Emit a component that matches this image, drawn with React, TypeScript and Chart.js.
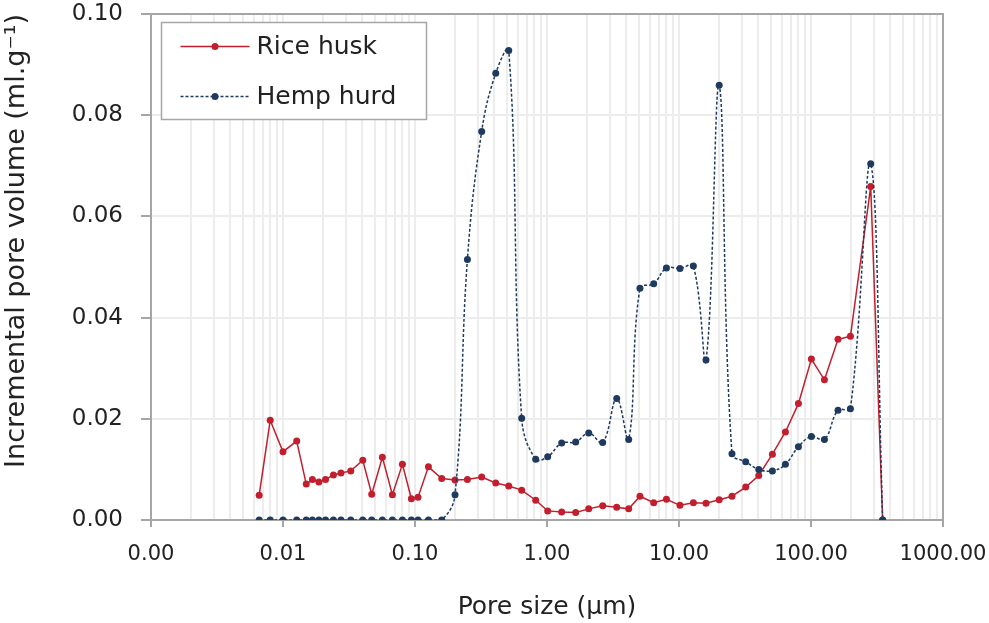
import React, { useEffect, useRef } from 'react';
import { Chart, registerables } from 'chart.js';

Chart.register(...registerables);

// ---- data ----
const poreSize = [
  0.0066, 0.008, 0.01, 0.0127, 0.015, 0.0167, 0.0187, 0.021, 0.0241, 0.0275,
  0.0326, 0.0402, 0.047, 0.0566, 0.0674, 0.0803, 0.0939, 0.1054, 0.1264, 0.1594,
  0.201, 0.2495, 0.32, 0.409, 0.513, 0.643, 0.821, 1.012, 1.292, 1.65,
  2.07, 2.642, 3.374, 4.158, 5.06, 6.43, 8.03, 10.17, 12.85, 16.02,
  20.16, 25.2, 32.0, 40.2, 51.0, 64.0, 80.3, 100.7, 126.4, 160.2,
  198.9, 283.4, 349,
];
const riceHusk = [
  0.0049, 0.0197, 0.0135, 0.0156, 0.0071, 0.008, 0.0075, 0.008, 0.0089, 0.0093,
  0.0097, 0.0118, 0.0051, 0.0124, 0.005, 0.011, 0.0042, 0.0045, 0.0105, 0.0082,
  0.0079, 0.008, 0.0085, 0.0073, 0.0067, 0.0059, 0.0039, 0.0018, 0.0016, 0.0015,
  0.0022, 0.0028, 0.0025, 0.0022, 0.0047, 0.0034, 0.0041, 0.0029, 0.0034, 0.0033,
  0.004, 0.0047, 0.0065, 0.0088, 0.013, 0.0174, 0.023, 0.0318, 0.0277, 0.0357,
  0.0363, 0.0659, 0,
];
const hempHurd = [
  0, 0, 0, 0, 0, 0, 0, 0, 0, 0,
  0, 0, 0, 0, 0, 0, 0, 0, 0, 0,
  0.005, 0.0515, 0.0768, 0.0883, 0.0928, 0.0201, 0.012, 0.0125, 0.0152, 0.0154,
  0.0172, 0.0153, 0.024, 0.0159, 0.0458, 0.0467, 0.0498, 0.0497, 0.0502, 0.0316,
  0.0859, 0.0131, 0.0115, 0.01, 0.0097, 0.011, 0.0145, 0.0165, 0.0159, 0.0217,
  0.022, 0.0704, 0,
];
const seriesNames = ['Rice husk', 'Hemp hurd'];
const xDecades = [0.001, 0.01, 0.1, 1, 10, 100, 1000];
const yTicks = [0, 0.02, 0.04, 0.06, 0.08, 0.1];
const xTitle = 'Pore size (µm)';
const yTitle = 'Incremental pore volume (ml.g⁻¹)';

// ---- styles ----
const FONT = "'DejaVu Sans', Verdana, sans-serif";
const AXIS = '#A6A6A6';
const GRID = '#EDEDED';
const TEXT = '#222222';
const RED = '#C21F2E';
const BLUE = '#1F3A5F';

function isDecade(v: number) {
  const l = Math.log10(v);
  return Math.abs(l - Math.round(l)) < 1e-6;
}

function logTickValues(): number[] {
  const out: number[] = [];
  for (let i = 0; i < xDecades.length - 1; i++) {
    for (let m = 1; m < 10; m++) out.push(Number((xDecades[i] * m).toPrecision(10)));
  }
  out.push(xDecades[xDecades.length - 1]);
  return out;
}

const framePlugin = {
  id: 'frame',
  beforeDatasetsDraw(chart: any) {
    const { ctx, chartArea: a } = chart;
    ctx.save();
    ctx.strokeStyle = AXIS;
    ctx.lineWidth = 2;
    ctx.beginPath();
    ctx.moveTo(a.left, a.top);
    ctx.lineTo(a.right, a.top);
    ctx.lineTo(a.right, a.bottom);
    ctx.stroke();
    ctx.restore();
  },
};

const boxLegend = {
  id: 'boxLegend',
  afterDatasetsDraw(chart: any) {
    const { ctx, chartArea: a } = chart;
    const x0 = Math.round(a.left + 10) + 0.5;
    const y0 = Math.round(a.top + 8) + 0.5;
    const w = 265;
    const h = 97;
    ctx.save();
    ctx.fillStyle = '#ffffff';
    ctx.fillRect(x0, y0, w, h);
    ctx.strokeStyle = AXIS;
    ctx.lineWidth = 1.5;
    ctx.strokeRect(x0, y0, w, h);
    chart.data.datasets.forEach((ds: any, i: number) => {
      const cy = y0 + 24 + i * 50;
      ctx.save();
      ctx.strokeStyle = ds.borderColor;
      ctx.lineWidth = 1.5;
      ctx.setLineDash(ds.borderDash || []);
      ctx.beginPath();
      ctx.moveTo(x0 + 19, cy);
      ctx.lineTo(x0 + 88, cy);
      ctx.stroke();
      ctx.restore();
      ctx.fillStyle = ds.pointBackgroundColor;
      ctx.beginPath();
      ctx.arc(x0 + 53.5, cy, 3.5, 0, Math.PI * 2);
      ctx.fill();
      ctx.fillStyle = TEXT;
      ctx.font = `25px ${FONT}`;
      ctx.textBaseline = 'middle';
      ctx.textAlign = 'left';
      ctx.fillText(ds.label, x0 + 95, cy + 1);
    });
    ctx.restore();
  },
};

export default function App() {
  const canvasRef = useRef<HTMLCanvasElement | null>(null);

  useEffect(() => {
    const canvas = canvasRef.current;
    if (!canvas) return;
    const chart = new Chart(canvas, {
      type: 'line',
      data: {
        datasets: [
          {
            label: seriesNames[0],
            data: poreSize.map((x, i) => ({ x, y: riceHusk[i] })),
            borderColor: RED,
            backgroundColor: RED,
            pointBackgroundColor: RED,
            pointBorderColor: RED,
            borderWidth: 1.5,
            pointRadius: 3.5,
            pointBorderWidth: 0,
            tension: 0,
            order: 1,
          },
          {
            label: seriesNames[1],
            data: poreSize.map((x, i) => ({ x, y: hempHurd[i] })),
            borderColor: BLUE,
            backgroundColor: BLUE,
            pointBackgroundColor: BLUE,
            pointBorderColor: BLUE,
            borderWidth: 1.5,
            borderDash: [3, 2],
            pointRadius: 3.5,
            pointBorderWidth: 0,
            tension: 0.4,
            order: 0,
          },
        ],
      },
      options: {
        responsive: false,
        animation: false,
        events: [],
        layout: { padding: { left: 0, right: 46, top: 14, bottom: 0 } },
        plugins: {
          legend: { display: false },
          tooltip: { enabled: false },
        },
        scales: {
          x: {
            type: 'logarithmic',
            min: 0.001,
            max: 1000,
            afterFit: (s: any) => {
              s.height = 103;
              s.paddingLeft = 0;
              s.paddingRight = 0;
            },
            afterBuildTicks: (s: any) => {
              s.ticks = logTickValues().map((v) => ({ value: v, major: isDecade(v) }));
            },
            ticks: {
              autoSkip: false,
              maxRotation: 0,
              minRotation: 0,
              padding: 15,
              color: TEXT,
              font: { family: FONT, size: 21 },
              callback: (v: any) => (isDecade(Number(v)) ? Number(v).toFixed(2) : ''),
            },
            grid: {
              color: GRID,
              lineWidth: 2,
              tickLength: 7,
              tickWidth: 2,
              tickColor: (c: any) => (c.tick && isDecade(c.tick.value) ? AXIS : 'rgba(0,0,0,0)'),
            },
            border: { color: AXIS, width: 2 },
            title: {
              display: true,
              text: xTitle,
              color: TEXT,
              font: { family: FONT, size: 25 },
              padding: { top: 0, bottom: 1 },
            },
          },
          y: {
            type: 'linear',
            min: 0,
            max: 0.1,
            afterFit: (s: any) => {
              s.width = 151;
              s.paddingTop = 0;
              s.paddingBottom = 0;
            },
            afterBuildTicks: (s: any) => {
              s.ticks = yTicks.map((v) => ({ value: v }));
            },
            ticks: {
              padding: 18,
              color: TEXT,
              font: { family: FONT, size: 23 },
              callback: (v: any) => Number(v).toFixed(2),
            },
            grid: {
              color: GRID,
              lineWidth: 2,
              tickLength: 10,
              tickWidth: 2,
              tickColor: AXIS,
            },
            border: { color: AXIS, width: 2 },
            title: {
              display: true,
              text: yTitle,
              align: 'end',
              color: TEXT,
              font: { family: FONT, size: 27 },
              padding: { top: 1, bottom: 0 },
            },
          },
        },
      } as any,
      plugins: [framePlugin, boxLegend],
    });
    return () => chart.destroy();
  }, []);

  return (
    <div style={{ position: 'fixed', left: 0, top: 0, width: 989, height: 623, background: '#ffffff' }}>
      <canvas ref={canvasRef} width={989} height={623} style={{ width: 989, height: 623, display: 'block' }} />
    </div>
  );
}
